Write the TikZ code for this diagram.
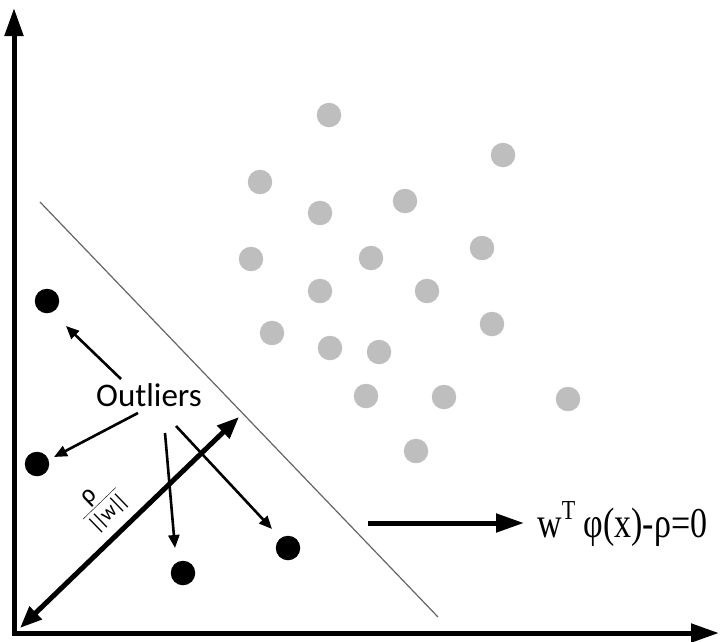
\documentclass[tikz,border=0pt]{standalone}
\usepackage{fontspec}
\setmainfont{Carlito}
\newfontfamily\eqfont{Liberation Serif}
\usetikzlibrary{arrows.meta}
\definecolor{dotgray}{RGB}{190,190,190}
\definecolor{sepgray}{RGB}{100,100,100}
\tikzset{
  gdot/.style={circle,fill=dotgray,minimum size=24.5pt,inner sep=0pt},
  bdot/.style={circle,fill=black,minimum size=24.5pt,inner sep=0pt},
  thinarrow/.style={line width=2.6pt,-{Triangle[length=13pt,width=11pt]}},
  thickarrow/.style={line width=5pt,-{Triangle[length=28pt,width=18pt]}},
  dblarrow/.style={line width=5pt,{Triangle[length=22pt,width=17pt]}-{Triangle[length=22pt,width=17pt]}},
  axis/.style={line width=5pt,line join=miter,{Triangle[length=28pt,width=18pt]}-{Triangle[length=28pt,width=18pt]}},
}
\begin{document}
\begin{tikzpicture}[x=1pt,y=-1pt]
\useasboundingbox (0,0) rectangle (720,641);
% axes
\coordinate (ytip) at (14,8);
\coordinate (origin) at (14,633);
\coordinate (xtip) at (719,633);
\draw[axis] (ytip) -- (origin) -- (xtip);
% separating line
\coordinate (s1) at (40,202);
\coordinate (s2) at (438,617);
\draw[sepgray,line width=1.2pt] (s1) -- (s2);
% grey dots
\foreach \n/\x/\y in {g1/329/115, g2/503/155, g3/260/182, g4/405/201, g5/320/213,
  g6/482/248, g7/251/259, g8/371/258, g9/320/291, g10/427/291, g11/272/333,
  g12/492/324, g13/330/348, g14/379/352, g15/366/396, g16/444/397,
  g17/568/399, g18/416/451}
  \node[gdot] (\n) at (\x,\y) {};
% black dots
\node[bdot] (b1) at (47,301) {};
\node[bdot] (b2) at (37,464) {};
\node[bdot] (b3) at (183,573) {};
\node[bdot] (b4) at (288,548) {};
% Outliers label
\node[anchor=base west,inner sep=0pt,font=\fontsize{33}{36}\selectfont] (out) at (96,406) {Outliers};
% arrows from label
\coordinate (a1s) at (121,379); \coordinate (a1e) at (66,326);
\coordinate (a2s) at (138,413); \coordinate (a2e) at (54,457);
\coordinate (a3s) at (165,433); \coordinate (a3e) at (175,548);
\coordinate (a4s) at (176,426); \coordinate (a4e) at (272,529);
\draw[thinarrow] (a1s) -- (a1e);
\draw[thinarrow] (a2s) -- (a2e);
\draw[thinarrow] (a3s) -- (a3e);
\draw[thinarrow] (a4s) -- (a4e);
% margin arrow
\coordinate (m1) at (20,628);
\coordinate (m2) at (239,417);
\draw[dblarrow] (m1) -- (m2);
\node[rotate=44,inner sep=0pt,font=\fontsize{21}{22}\selectfont] (rho) at (101,505)
  {\begin{tabular}{@{}c@{}}\kern-6pt{\fontsize{26}{26}\selectfont ρ}\\[-1pt]\hline\rule{0pt}{19pt}|\kern-3pt|\kern-1pt w\kern-1pt|\kern-3pt|\end{tabular}};
% hyperplane arrow
\coordinate (h1) at (368,523);
\coordinate (h2) at (524,523);
\draw[thickarrow] (h1) -- (h2);
\node[anchor=base west,inner sep=0pt] (eq) at (537,537)
  {\scalebox{1}[1.25]{\eqfont\fontsize{34}{38}\selectfont w\raisebox{0.42em}{\fontsize{22}{24}\selectfont T} φ(x)-ρ=0}};
\end{tikzpicture}
\end{document}
